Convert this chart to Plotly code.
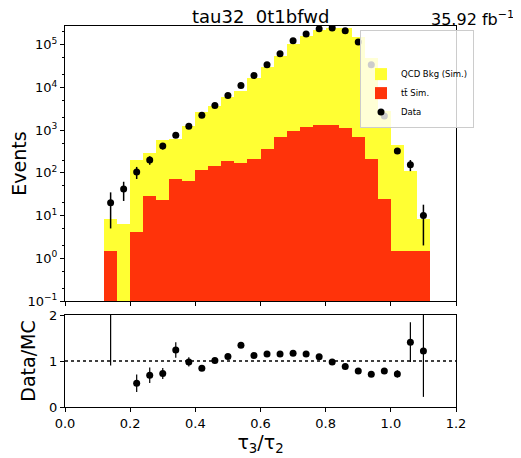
import plotly.graph_objects as go

# bin centres (width 0.04, 0.12 .. 1.12)
bin_centers = [0.14, 0.18, 0.22, 0.26, 0.30, 0.34, 0.38, 0.42, 0.46, 0.50,
               0.54, 0.58, 0.62, 0.66, 0.70, 0.74, 0.78, 0.82, 0.86, 0.90,
               0.94, 0.98, 1.02, 1.06, 1.10]
bin_width = 0.04

# stacked MC: total and ttbar part
mc_total = [8.5, 6.5, 204, 290, 582, 618, 1265, 2670, 3760, 5900,
            8280, 17000, 29600, 54000, 106000, 156500, 216500, 253000, 242000, 150000,
            48000, 2760, 450, 110, 8.2]
ttbar = [1.45, 0, 4.2, 29, 23, 72, 65, 117, 145, 190,
         168, 214, 360, 680, 960, 1220, 1300, 1300, 1130, 680,
         210, 25, 1.45, 1.45, 1.45]
qcd = [t - s for t, s in zip(mc_total, ttbar)]

data = [20, 42, 105, 200, 425, 766, 1240, 2240, 3800, 6500,
        11100, 19000, 34000, 62000, 124000, 180000, 236000, 248000, 213000, 117000,
        34000, 2150, 324, 155, 10]
data_err = [15, 20, 33, 45, 70, 105, 125, 110, 110, 130,
            170, 200, 300, 450, 700, 900, 1100, 1100, 1000, 700,
            400, 120, 30, 45, 8]

ratio = [2.35, 6.5, 0.515, 0.69, 0.73, 1.24, 0.98, 0.84, 1.01, 1.10,
         1.34, 1.12, 1.15, 1.15, 1.17, 1.15, 1.09, 0.98, 0.88, 0.78,
         0.71, 0.78, 0.72, 1.41, 1.22]
ratio_err = [1.45, 3.0, 0.19, 0.17, 0.12, 0.17, 0.10, 0.05, 0.04, 0.03,
             0.03, 0.02, 0.02, 0.02, 0.02, 0.02, 0.02, 0.02, 0.02, 0.02,
             0.02, 0.04, 0.08, 0.43, 1.0]

ytick_vals = [0.1, 1, 10, 100, 1000, 10000, 100000]
ytick_text = ["10<sup>\u22121</sup>", "10<sup>0</sup>", "10<sup>1</sup>", "10<sup>2</sup>",
              "10<sup>3</sup>", "10<sup>4</sup>", "10<sup>5</sup>"]

YELLOW = "#FFFF33"
RED = "#FF330A"
FONT = "DejaVu Sans"

# the page body has an 8px margin, so the figure is drawn 8px in from the window corner
OFF = 8
W, H = 521 - OFF, 458 - OFF


def px(x):
    return (x - OFF) / W


def py(y):
    return 1 - (y - OFF) / H


fig = go.Figure()

fig.add_trace(go.Bar(
    x=bin_centers, y=ttbar, width=bin_width, name="tt\u0304 Sim.",
    marker=dict(color=RED, line=dict(width=0)), legendrank=2,
    xaxis="x", yaxis="y"))
fig.add_trace(go.Bar(
    x=bin_centers, y=qcd, width=bin_width, name="QCD Bkg (Sim.)",
    marker=dict(color=YELLOW, line=dict(width=0)), legendrank=1,
    xaxis="x", yaxis="y"))
fig.add_trace(go.Scatter(
    x=bin_centers, y=data, mode="markers", name="Data",
    marker=dict(color="black", size=7),
    error_y=dict(type="data", array=data_err, color="black", thickness=1.5, width=0),
    legendrank=3, xaxis="x", yaxis="y"))

fig.add_trace(go.Scatter(
    x=bin_centers, y=ratio, mode="markers", showlegend=False,
    marker=dict(color="black", size=7),
    error_y=dict(type="data", array=ratio_err, color="black", thickness=1.2, width=0),
    xaxis="x2", yaxis="y2"))

axis_common = dict(showline=True, mirror=True, linecolor="black", linewidth=1,
                   ticks="outside", ticklen=4, tickcolor="black",
                   showgrid=False, zeroline=False, automargin=False,
                   tickfont=dict(family=FONT, size=13, color="black"))

fig.update_layout(
    width=W, height=H,
    margin=dict(l=0, r=0, t=0, b=0),
    paper_bgcolor="white", plot_bgcolor="white",
    barmode="stack", bargap=0,
    font=dict(family=FONT, color="black"),
    xaxis=dict(domain=[px(65), px(456)], range=[0, 1.2], dtick=0.2,
               showticklabels=False, anchor="y", **axis_common),
    yaxis=dict(domain=[py(301), py(26)], type="log", range=[-1, 5.44],
               tickvals=ytick_vals, ticktext=ytick_text,
               minor=dict(ticks="outside", ticklen=2, tickcolor="black"),
               title=dict(text="Events", font=dict(family=FONT, size=19), standoff=8),
               anchor="x", **axis_common),
    xaxis2=dict(domain=[px(65), px(456)], range=[0, 1.2], dtick=0.2,
                tickformat=".1f", anchor="y2",
                title=dict(text="\u03c4<sub>3</sub>/\u03c4<sub>2</sub>",
                           font=dict(family=FONT, size=19), standoff=6),
                **axis_common),
    yaxis2=dict(domain=[py(407), py(315)], range=[0, 2], dtick=1,
                title=dict(text="Data/MC", font=dict(family=FONT, size=19), standoff=8),
                anchor="x2", **axis_common),
    legend=dict(x=px(360), y=py(30), xanchor="left", yanchor="top",
                traceorder="normal",
                bgcolor="rgba(255,255,255,0.8)", bordercolor="#cccccc", borderwidth=1,
                font=dict(family=FONT, size=8.5, color="black"),
                title=dict(text="<br> ", font=dict(size=11)),
                itemwidth=30, tracegroupgap=0),
    shapes=[dict(type="line", xref="x2", yref="y2", x0=0, x1=1.2, y0=1, y1=1,
                 line=dict(color="black", width=1.5, dash="dot"))],
    annotations=[
        dict(text="tau32\u00a0 0t1bfwd", xref="paper", yref="paper",
             x=px(260.5), y=py(16.5), xanchor="center", yanchor="middle",
             showarrow=False, borderpad=0,
             font=dict(family=FONT, size=18, color="black")),
        dict(text="35.92 fb<sup>\u22121</sup>", xref="paper", yref="paper",
             x=px(516), y=py(18), xanchor="right", yanchor="middle",
             showarrow=False, font=dict(family=FONT, size=16, color="black")),
    ],
)

fig.write_html("out.html")
